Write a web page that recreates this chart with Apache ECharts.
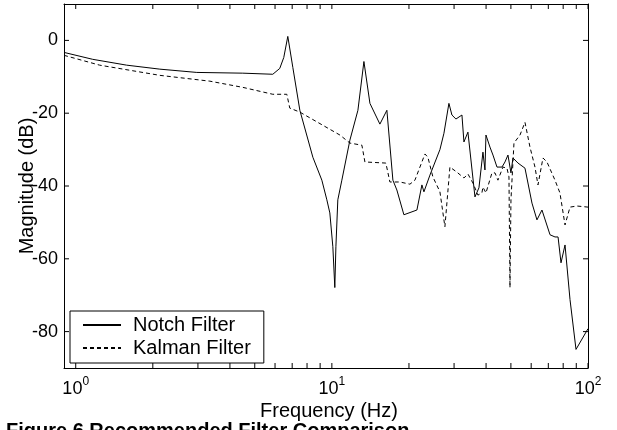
<!DOCTYPE html>
<html>
<head>
<meta charset="utf-8">
<script src="https://cdn.jsdelivr.net/npm/echarts@6/dist/echarts.min.js"></script>
<style>
  html, body { margin: 0; padding: 0; background: #fff; }
  #chart { width: 617px; height: 430px; }
</style>
</head>
<body>
<div id="chart"></div>
<script>
// Notch filter response (Hz, dB)
var notchFreq = [0.9, 1.165, 1.58, 2.13, 2.97, 4.49, 5.88, 6.26, 6.49, 6.73, 7.04, 7.5, 8.43, 9.14, 9.56,
  9.82, 10.09, 10.27, 10.37, 10.55, 10.94, 11.76, 12.64, 13.34, 14.08, 15.4, 16.4, 17.31, 17.94, 19.11,
  21.48, 22.47, 22.88, 24.15, 26.42, 27.39, 28.64, 29.43, 30.51, 32.2, 32.78, 33.98, 36.2, 37.52, 38.89,
  39.6, 39.96, 41.42, 42.56, 44.12, 46.15, 47.41, 48.7, 50.03, 50.94, 53.3, 56.75, 60.43, 63.2, 66.11,
  71.08, 74.32, 76.4, 78.46, 81.34, 85.07, 89.78, 100];
var notchDb = [-3.3, -5.2, -6.8, -7.9, -8.8, -9.0, -9.3, -7.7, -4.7, 1.1, -7.4, -19.2, -32.1, -38.4, -43.8,
  -47.4, -56.7, -67.9, -56.7, -43.8, -38.4, -27.4, -19.2, -5.8, -17.3, -23.0, -19.2, -38.4, -41.1, -47.9,
  -46.6, -39.7, -41.6, -37.0, -30.0, -25.5, -17.3, -20.5, -21.6, -20.5, -27.9, -25.2, -43.0, -40.5, -30.7,
  -35.6, -26.0, -29.3, -31.5, -34.8, -34.8, -33.4, -31.5, -36.4, -32.3, -33.7, -35.1, -44.7, -49.3, -46.6,
  -53.4, -54.0, -54.0, -61.1, -56.2, -71.2, -84.9, -79.2];

// Kalman filter response (Hz, dB)
var kalmanFreq = [0.9, 1.24, 2.13, 3.34, 4.49, 5.88, 6.67, 6.85, 7.5, 10.75, 11.76, 13.1, 13.46, 16.25,
  16.85, 18.44, 20.17, 21.1, 23.09, 23.71, 24.8, 26.42, 27.63, 28.9, 30.78, 32.78, 33.98, 35.55, 37.18,
  38.53, 38.89, 39.96, 42.17, 43.34, 44.5, 46.56, 48.26, 49.14, 49.59, 50.03, 51.4, 54.26, 56.75, 59.35,
  62.09, 63.78, 66.71, 69.15, 74.32, 77.7, 81.34, 85.07, 90.6, 100];
var kalmanDb = [-4.1, -6.8, -9.6, -11.2, -12.9, -14.8, -14.8, -18.6, -19.7, -26.0, -28.2, -28.8, -33.4, -33.7,
  -38.9, -38.9, -39.5, -38.4, -31.2, -32.1, -37.5, -41.6, -51.2, -34.8, -36.2, -37.8, -36.7, -39.2, -42.5,
  -41.9, -40.3, -41.9, -36.4, -36.4, -38.4, -34.8, -35.1, -37.5, -67.9, -43.8, -28.2, -26.0, -22.5, -29.3,
  -34.8, -39.7, -32.3, -33.4, -38.4, -41.9, -50.7, -45.8, -45.5, -45.8];

var xTickLabels = [0, 1, 2];
var yTickValues = [-80, -60, -40, -20, 0];
// tick frequencies of the log axis (Hz)
var xTickFreq = [1, 2, 3, 4, 5, 6, 7, 8, 9, 10, 20, 30, 40, 50, 60, 70, 80, 90, 100];

var xMin = Math.log10(0.9);
var xMax = 2;
var yMin = -90;
var yMax = 10;
var tickLen = 5;

function toPoints(freq, db) {
  return freq.map(function (f, i) {
    return [Math.log10(f), db[i]];
  });
}

var font = "'Liberation Sans', Arial, sans-serif";

function axisLine() {
  return { show: true, onZero: false, lineStyle: { color: "#000", width: 1 } };
}

function tickLine(x1, y1, x2, y2) {
  return {
    type: "line",
    shape: { x1: x1, y1: y1, x2: x2, y2: y2 },
    style: { stroke: "#000", lineWidth: 1 },
  };
}

// inward ticks on all four sides of the box
function renderXTick(params, api) {
  var b = api.coord([api.value(0), yMin]);
  var t = api.coord([api.value(0), yMax]);
  return {
    type: "group",
    children: [tickLine(b[0], b[1], b[0], b[1] - tickLen), tickLine(t[0], t[1], t[0], t[1] + tickLen)],
  };
}

function renderYTick(params, api) {
  var l = api.coord([xMin, api.value(1)]);
  var r = api.coord([xMax, api.value(1)]);
  return {
    type: "group",
    children: [tickLine(l[0], l[1], l[0] + tickLen, l[1]), tickLine(r[0], r[1], r[0] - tickLen, r[1])],
  };
}

var chart = echarts.init(document.getElementById("chart"));

chart.setOption({
  animation: false,
  textStyle: { fontFamily: font, color: "#000" },
  title: {
    text: "Figure 6 Recommended Filter Comparison",
    left: 6,
    top: 421,
    padding: 0,
    textStyle: { fontFamily: font, fontSize: 20, fontWeight: "bold", color: "#000" },
  },
  grid: { left: 64, right: 29, top: 4, bottom: 62 },
  legend: {
    orient: "vertical",
    left: 70,
    top: 311,
    padding: [3, 13, 4, 12],
    itemGap: 1,
    itemWidth: 38,
    itemHeight: 14,
    backgroundColor: "#fff",
    borderColor: "#000",
    borderWidth: 1,
    borderRadius: 0,
    z: 10,
    itemStyle: { opacity: 0, color: "transparent", borderWidth: 0 },
    textStyle: { fontFamily: font, fontSize: 20, color: "#000", lineHeight: 22, padding: [0, 0, 0, 7] },
    data: ["Notch Filter", "Kalman Filter"],
  },
  xAxis: [
    {
      type: "value",
      min: xMin,
      max: xMax,
      name: "Frequency (Hz)",
      nameLocation: "middle",
      nameGap: 33,
      nameMoveOverlap: false,
      nameTextStyle: { fontFamily: font, fontSize: 20, color: "#000", padding: [0, 0, 0, 6] },
      axisLine: axisLine(),
      splitLine: { show: false },
      axisTick: { show: false },
      axisLabel: {
        customValues: xTickLabels,
        margin: 8,
        formatter: function (v) {
          return "{b|10}{s|" + Math.round(v) + "}";
        },
        rich: {
          b: { fontFamily: font, fontSize: 18, color: "#000", lineHeight: 22, verticalAlign: "bottom" },
          s: { fontFamily: font, fontSize: 12, color: "#000", lineHeight: 12, verticalAlign: "top" },
        },
      },
    },
    {
      type: "value",
      position: "top",
      min: xMin,
      max: xMax,
      axisLine: axisLine(),
      splitLine: { show: false },
      axisTick: { show: false },
      axisLabel: { show: false },
    },
  ],
  yAxis: [
    {
      type: "value",
      min: yMin,
      max: yMax,
      name: "Magnitude (dB)",
      nameLocation: "middle",
      nameGap: 27,
      nameMoveOverlap: false,
      nameTextStyle: { fontFamily: font, fontSize: 20, color: "#000" },
      axisLine: axisLine(),
      splitLine: { show: false },
      axisTick: { show: false },
      axisLabel: { customValues: yTickValues, margin: 6, fontFamily: font, fontSize: 18, color: "#000" },
    },
    {
      type: "value",
      position: "right",
      min: yMin,
      max: yMax,
      axisLine: axisLine(),
      splitLine: { show: false },
      axisTick: { show: false },
      axisLabel: { show: false },
    },
  ],
  series: [
    {
      name: "Notch Filter",
      type: "line",
      symbol: "none",
      xAxisIndex: 0,
      yAxisIndex: 0,
      lineStyle: { color: "#000", width: 1, type: "solid" },
      itemStyle: { color: "#000" },
      data: toPoints(notchFreq, notchDb),
    },
    {
      name: "Kalman Filter",
      type: "line",
      symbol: "none",
      xAxisIndex: 0,
      yAxisIndex: 0,
      lineStyle: { color: "#000", width: 1, type: [4, 3] },
      itemStyle: { color: "#000" },
      data: toPoints(kalmanFreq, kalmanDb),
    },
    {
      type: "custom",
      silent: true,
      xAxisIndex: 0,
      yAxisIndex: 0,
      renderItem: renderXTick,
      data: xTickFreq.map(function (f) {
        return [Math.log10(f), yMin];
      }),
    },
    {
      type: "custom",
      silent: true,
      xAxisIndex: 0,
      yAxisIndex: 0,
      renderItem: renderYTick,
      data: yTickValues.map(function (v) {
        return [xMin, v];
      }),
    },
  ],
});
</script>
</body>
</html>
